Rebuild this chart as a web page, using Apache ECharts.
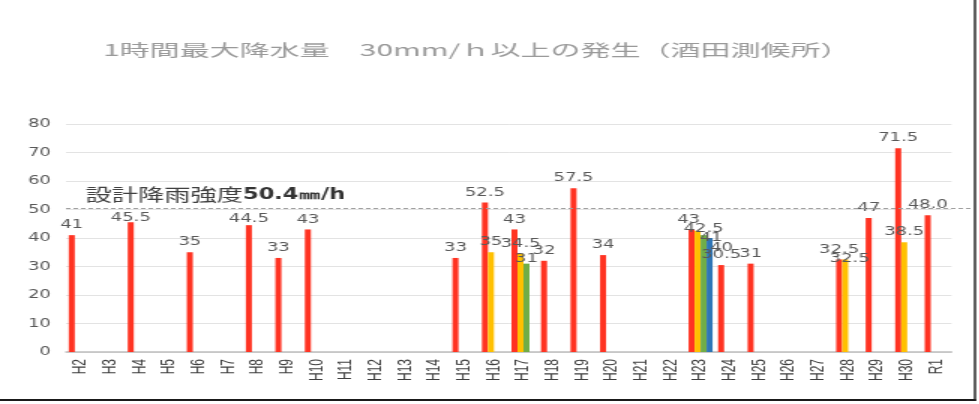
<!DOCTYPE html>
<html><head><meta charset="utf-8">
<script src="https://cdn.jsdelivr.net/npm/echarts@6/dist/echarts.min.js"></script>
<style>
html,body{margin:0;padding:0;background:#fff;overflow:hidden}
#wrap{width:979px;height:404px;overflow:hidden;position:relative;background:#fff}
#chart{width:652.67px;height:404px;transform:scaleX(1.5);transform-origin:0 0}
</style></head>
<body><div id="wrap"><div id="chart"></div></div>
<script>
const titleText = '1時間最大降水量　30mm/ｈ以上の発生（酒田測候所）';
const categories = ['H2','H3','H4','H5','H6','H7','H8','H9','H10','H11','H12','H13','H14','H15','H16','H17','H18','H19','H20','H21','H22','H23','H24','H25','H26','H27','H28','H29','H30','R1'];
const seriesNames = ['1位','2位','3位','4位'];
const rank1 = [41,null,45.5,null,35,null,44.5,33,43,null,null,null,null,33,52.5,43,32,57.5,34,null,null,43,30.5,31,null,null,32.5,47,71.5,48.0];
const rank2 = [null,null,null,null,null,null,null,null,null,null,null,null,null,null,35,34.5,null,null,null,null,null,42.5,null,null,null,null,32.5,null,38.5,null];
const rank3 = [null,null,null,null,null,null,null,null,null,null,null,null,null,null,null,31,null,null,null,null,null,41,null,null,null,null,null,null,null,null];
const rank4 = [null,null,null,null,null,null,null,null,null,null,null,null,null,null,null,null,null,null,null,null,null,40,null,null,null,null,null,null,null,null];
const designValue = 50.4;
const designLabelA = '設計降雨強度';
const designLabelB = '50.4㎜/h';
const yTicks = [0,10,20,30,40,50,60,70,80];

const colors = ['#FF3322','#FFC000','#70AD47','#2E75B6'];
const allData = [rank1, rank2, rank3, rank4];
// label nudges (style only) keyed by series index and category
const labelNudge = {'0|H4':[0,6],'0|H8':[0,4],'0|H23':[-2,0],'1|H23':[4,8],'2|H23':[5,13],'3|H23':[8,20],'1|H28':[3,9],'2|H17':[0,5]};

const chart = echarts.init(document.getElementById('chart'));
const labelFont = {color:'#595959', fontFamily:'DejaVu Sans', fontSize:12};

const barSeries = allData.map((arr, si) => ({
  name: seriesNames[si],
  type: 'bar',
  xAxisIndex: 0, yAxisIndex: 0,
  barWidth: 4,
  barGap: '0%',
  itemStyle: {color: colors[si]},
  label: Object.assign({
    show: true, position: 'top', distance: 4,
    formatter: p => (p.value == null ? '' : (p.name === 'R1' ? Number(p.value).toFixed(1) : String(p.value)))
  }, labelFont),
  data: arr.map((v, i) => {
    const key = si + '|' + categories[i];
    if (labelNudge[key]) return {value: v, label: {offset: labelNudge[key]}};
    return v;
  })
}));

const option = {
  animation: false,
  backgroundColor: '#fff',
  grid: [
    {left: 44, right: 18.67, top: 124, bottom: 52, outerBoundsMode: 'none'},
    {left: 44, right: 4, top: 124, bottom: 52, outerBoundsMode: 'none'}
  ],
  xAxis: [
    {type: 'category', data: categories, gridIndex: 0,
     axisTick: {show: false},
     axisLine: {lineStyle: {color: '#bfbfbf', width: 1.5}},
     axisLabel: {interval: 0, rotate: 90, margin: 7, color: '#404040', fontFamily: 'Liberation Sans Narrow, Liberation Sans', fontSize: 12}},
    {type: 'value', gridIndex: 1, show: false, min: 0, max: 1}
  ],
  yAxis: [
    {type: 'value', gridIndex: 0, min: yTicks[0], max: yTicks[yTicks.length-1], interval: 10,
     axisLine: {show: false}, axisTick: {show: false},
     splitLine: {lineStyle: {color: '#e3e3e3', width: 1}},
     axisLabel: {margin: 10, color: '#595959', fontFamily: 'DejaVu Sans', fontSize: 12}},
    {type: 'value', gridIndex: 1, show: false, min: yTicks[0], max: yTicks[yTicks.length-1]}
  ],
  series: barSeries.concat([{
    type: 'line', xAxisIndex: 1, yAxisIndex: 1, data: [], silent: true,
    markLine: {
      symbol: ['none','none'], silent: true, animation: false,
      lineStyle: {type: [3,2], color: '#a0a0a0', width: 1},
      label: {position: 'insideStartTop', distance: [13, 5],
        formatter: '{a|' + designLabelA + '}{b|' + designLabelB + '}',
        rich: {
          a: {fontFamily: 'Noto Sans CJK JP', fontSize: 17.5, color: '#404040'},
          b: {fontFamily: 'DejaVu Sans', fontSize: 15, fontWeight: 'bold', color: '#333'}
        }},
      data: [{yAxis: designValue}]
    }
  }]),
  graphic: [
    {type: 'text', x: 68.7, y: 49.5, scaleX: 1.25, silent: true,
     style: {text: titleText, fontFamily: 'Noto Sans CJK JP', fontSize: 16, fill: '#9a9a9a', textVerticalAlign: 'middle', verticalAlign: 'middle', align: 'left'}},
    {type: 'line', silent: true, shape: {x1: 650, y1: 0, x2: 650, y2: 401}, style: {stroke: '#1a1a1a', lineWidth: 1.4}},
    {type: 'line', silent: true, shape: {x1: 0, y1: 400, x2: 650.7, y2: 400}, style: {stroke: '#1a1a1a', lineWidth: 2}}
  ]
};
chart.setOption(option);
</script>
</body></html>
